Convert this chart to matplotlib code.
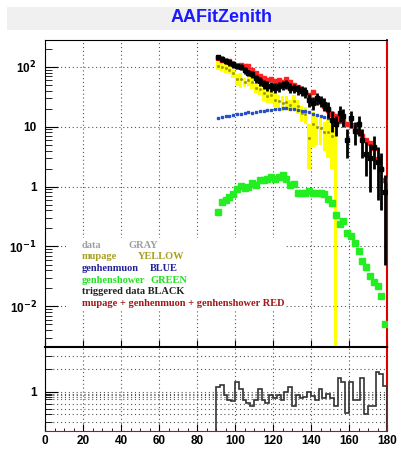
import matplotlib
matplotlib.use("Agg")
import matplotlib.pyplot as plt
from matplotlib.patches import Rectangle
from matplotlib.ticker import FixedLocator, FuncFormatter, NullFormatter
import numpy as np

# zenith bins (2 degrees wide, 90..180)
edges = np.arange(90, 182, 2)
zenith = edges[:-1] + 1

# mupage (YELLOW): value and error box half-height, 0 = empty bin
mupage = [105, 100, 95, 90, 78, 62, 62, 56, 60, 55, 45, 42, 36, 33, 34, 28, 27, 25,
          26, 23, 27, 22, 17, 16, 6.5, 11, 10, 9.5, 8, 8, 7, 8,
          0, 0, 0, 0, 0, 0, 0, 0, 0, 0, 0, 0, 0]
mupage_err = [15, 15, 15, 15, 14, 15, 17, 10, 12, 12, 9, 8, 9, 8, 9, 7, 7, 7,
              6, 5, 7, 6, 5, 5, 4.5, 6.5, 5, 4.5, 4, 5, 5, 8.5,
              0, 0, 0, 0, 0, 0, 0, 0, 0, 0, 0, 0, 0]

# genhenmuon (BLUE)
genhenmuon = [14, 14.3, 14.8, 15.2, 15.5, 16.2, 16.5, 17, 17.3, 16.8, 17.8, 18.5, 18.2,
              18.8, 19.2, 19.5, 19.8, 20.3, 20.5, 20, 19.5, 19, 18.5, 18, 17.3, 16.5,
              15.5, 15, 14.6, 14.2, 13.8, 13, 12.2, 11.8, 11, 10.3, 9.3, 8, 7, 6,
              5.3, 4.3, 2.8, 1.9, 1.2]

# genhenshower (GREEN)
genhenshower = [0.38, 0.55, 0.6, 0.67, 0.76, 0.91, 1.04, 0.95, 1.0, 1.17, 1.05, 1.31,
                1.29, 1.34, 1.43, 1.36, 1.43, 1.58, 1.36, 1.05, 1.1, 0.79, 0.78, 0.79,
                0.84, 0.79, 0.79, 0.77, 0.74, 0.62, 0.54, 0.33, 0.24, 0.27, 0.17, 0.15,
                0.115, 0.083, 0.057, 0.045, 0.032, 0.026, 0.022, 0.015, 0.005]

# mupage + genhenmuon + genhenshower (RED)
total = [140, 132, 125, 124, 112, 105, 108, 104, 102, 88, 78, 70, 66, 61, 62, 58, 60,
         56, 62, 56, 50, 46, 40, 37, 34, 38, 30, 26, 22, 19, 16, 15, 13, 12.3, 11.3,
         10.6, 9.5, 8.2, 7.1, 6.1, 5.4, 4.4, 2.9, 2.0, 1.3]
total_err = [9, 9, 8, 8, 8, 7, 7, 7, 7, 6, 6, 5, 5, 5, 5, 4, 4, 4, 4, 4, 4, 3.5, 3, 3,
             3, 3, 2.5, 2, 2, 1.5, 1.3, 1.2, 0.8, 0.7, 0.6, 0.6, 0.5, 0.5, 0.4, 0.4,
             0.35, 0.3, 0.25, 0.2, 0.15]

# triggered data (BLACK)
data = [145, 135, 125, 118, 110, 104, 100, 88, 80, 75, 64, 58, 52, 48, 47, 45, 47, 50,
        52, 45, 44, 42, 40, 38, 28, 25, 30, 27, 24, 20, 13, 11, 17, 15, 6, 14, 8.5, 11,
        6, 3.5, 3.0, 4.5, 2.6, 2.0, 0.8]
data_err = [15, 14, 14, 13, 13, 13, 12, 12, 11, 11, 10, 10, 9, 9, 9, 9, 9, 9, 9, 9, 8,
            8, 8, 8, 7, 6, 7, 6, 6, 6, 5, 4, 5, 5, 3, 4.5, 3.5, 4, 3, 2, 2.2, 2.5, 2,
            1.6, 0.75]

# ratio panel
ratio = [1.18, 1.24, 0.91, 0.78, 0.75, 1.37, 1.1, 0.78, 0.71, 0.64, 0.78, 1.1, 0.78,
         0.71, 0.91, 0.82, 0.91, 0.78, 1.0, 1.18, 0.64, 0.91, 0.82, 0.85, 1.0, 0.87,
         0.78, 1.1, 0.82, 0.95, 0.82, 0.64, 1.54, 1.37, 0.52, 1.37, 0.78, 0.78, 1.54,
         0.5, 0.64, 0.64, 1.87, 1.75, 1.2]

mupage = np.array(mupage, float)
mupage_err = np.array(mupage_err, float)
data = np.array(data, float)
data_err = np.array(data_err, float)

plt.rcParams["font.family"] = ["Liberation Sans", "DejaVu Sans"]
plt.rcParams["font.weight"] = "bold"

fig = plt.figure(figsize=(4.01, 4.49), dpi=100)
fig.patches.append(Rectangle((7 / 401, 419 / 449), 394 / 401, 23 / 449,
                             transform=fig.transFigure, facecolor="#f0f0f0",
                             edgecolor="none", zorder=0))
fig.text(222 / 401, 431 / 449, "AAFitZenith", color="#1a1aff", fontsize=13,
         fontweight="bold", ha="center", va="center")

ax = fig.add_axes([45 / 401, 102 / 449, 342 / 401, 307 / 449])
ax2 = fig.add_axes([45 / 401, 18 / 449, 342 / 401, 84 / 449])

# ---- top panel
ax.set_yscale("log")
ax.set_xlim(0, 180)
ax.set_ylim(0.0021, 280)
ax.set_axisbelow(True)
ax.grid(True, which="major", linestyle=(0, (1, 2.5)), color="#555555", linewidth=0.8)

m = mupage > 0
low = np.minimum(mupage_err, mupage - 1e-4)
ax.bar(zenith[m], (mupage_err + low)[m], bottom=(mupage - low)[m],
       width=1.7, color="#ffff00", edgecolor="none", zorder=2)
ax.plot(zenith[m], mupage[m], "s", ms=1.0, color="#9a9a00", zorder=2.1)

ax.plot(zenith, genhenshower, "s", ms=4.2, color="#22ee22", zorder=3)
ax.plot(zenith, genhenmuon, "s", ms=1.5, color="#2a50c8", zorder=3)
ax.errorbar(zenith, total, yerr=total_err, fmt="s", ms=3.2, color="#ff2020",
            elinewidth=2.2, capsize=0, zorder=4)
ax.errorbar(zenith, data, yerr=[np.minimum(data_err, data - 1e-4), data_err], fmt="s",
            ms=2.4, color="black", elinewidth=2.0, capsize=0, zorder=5)

ax.add_patch(Rectangle((0.064, 0.12), 0.636, 0.235, transform=ax.transAxes,
                       facecolor="white", edgecolor="none", zorder=1))

legend_rows = [("data", "GRAY", "#a0a0a0", 0.243),
               ("mupage", "YELLOW", "#a8a020", 0.272),
               ("genhenmuon", "BLUE", "#22229a", 0.307),
               ("genhenshower", "GREEN", "#22e022", 0.309),
               ("triggered data BLACK", "", "#222222", 0),
               ("mupage + genhenmuon + genhenshower RED", "", "#a01818", 0)]
for i, (name, col, c, xc) in enumerate(legend_rows):
    y = 0.332 - i * 0.038
    ax.text(0.107, y, name, transform=ax.transAxes, color=c, fontsize=7.5,
            family="Liberation Serif", fontweight="bold", va="center", zorder=6)
    if col:
        ax.text(xc, y, col, transform=ax.transAxes, color=c, fontsize=7.5,
                family="Liberation Serif", fontweight="bold", va="center", zorder=6)

ax.yaxis.set_major_locator(FixedLocator([1e-2, 1e-1, 1, 10, 100]))
ylabels = {1e-2: "10$^{-2}$", 1e-1: "10$^{-1}$", 1: "1", 10: "10", 100: "10$^{2}$"}
ax.yaxis.set_major_formatter(FuncFormatter(lambda v, p: ylabels.get(v, "")))
ax.set_xticks(np.arange(0, 181, 20))
ax.tick_params(axis="x", direction="in", length=5, labelbottom=False)
ax.tick_params(axis="y", which="major", direction="in", length=9, labelsize=8.5, pad=6)
ax.tick_params(axis="y", which="minor", direction="in", length=5)
ax.spines["right"].set_color("#dd0000")
ax.spines["right"].set_linewidth(1.5)

# ---- ratio panel
ax2.set_yscale("log")
ax2.set_xlim(0, 180)
ax2.set_ylim(0.3, 4)
ax2.set_axisbelow(True)
ax2.stairs(ratio, edges, baseline=0.01, color="#333333", linewidth=1.2, zorder=3)
ax2.yaxis.set_major_locator(FixedLocator([1]))
ax2.yaxis.set_minor_locator(FixedLocator([0.3, 0.4, 0.5, 0.6, 0.7, 0.8, 0.85, 0.9,
                                          0.95, 2, 3]))
ax2.yaxis.set_major_formatter(FuncFormatter(lambda v, p: "1"))
ax2.yaxis.set_minor_formatter(NullFormatter())
ax2.grid(True, which="both", axis="y", linestyle=(0, (1, 2.5)), color="#555555",
         linewidth=0.8)
ax2.grid(True, which="major", axis="x", linestyle=(0, (1, 2.5)), color="#555555",
         linewidth=0.8)
ax2.set_xticks(np.arange(0, 181, 20))
ax2.set_xticks(np.arange(0, 181, 5), minor=True)
ax2.tick_params(axis="x", which="major", direction="in", length=5, labelsize=8.5,
                pad=3)
ax2.tick_params(axis="x", which="minor", direction="in", length=2.5)
ax2.tick_params(axis="y", which="major", direction="in", length=9, labelsize=8.5, pad=6)
ax2.tick_params(axis="y", which="minor", direction="in", length=5)
ax2.spines["right"].set_color("#dd0000")
ax2.spines["bottom"].set_color("#dd0000")
ax2.spines["right"].set_linewidth(1.5)
ax2.spines["top"].set_linewidth(1.5)

fig.savefig("out.png", dpi=100)
